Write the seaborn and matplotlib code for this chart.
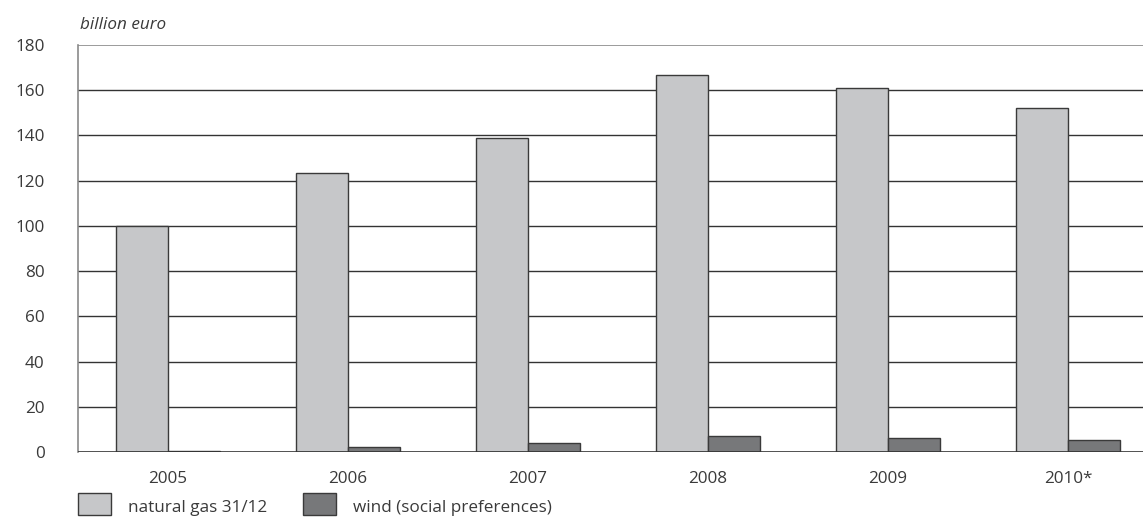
import pandas as pd
import matplotlib
matplotlib.use("Agg")
import matplotlib.pyplot as plt
from matplotlib.patches import Rectangle
import seaborn as sns

# chart values
years = ["2005", "2006", "2007", "2008", "2009", "2010*"]
natural_gas = [100, 123.4, 138.9, 166.7, 161, 152.1]
wind = [0.5, 2.2, 4.0, 7.1, 6.4, 5.1]
series_names = ["natural gas 31/12", "wind (social preferences)"]
y_ticks = [0, 20, 40, 60, 80, 100, 120, 140, 160, 180]

df = pd.DataFrame({
    "year": years * 2,
    "value": natural_gas + wind,
    "series": [series_names[0]] * len(years) + [series_names[1]] * len(years),
})

sns.set_style("white")
plt.rcParams["font.family"] = ["Open Sans", "DejaVu Sans"]
fs = 12.3
txt_col = "#3a3a3a"

fig = plt.figure(figsize=(11.43, 5.18), dpi=100)
ax = fig.add_axes([78 / 1143, 1 - 452 / 518, 1 - 78 / 1143, (452 - 45) / 518])

palette = {series_names[0]: "#c6c7c9", series_names[1]: "#77787a"}
sns.barplot(data=df, x="year", y="value", hue="series", palette=palette,
            width=0.58, edgecolor="#3a3a3a", linewidth=1.0, ax=ax,
            saturation=1, legend=False, zorder=3)

# horizontal grid lines
for t in y_ticks[1:-1]:
    ax.axhline(t, color="#333333", lw=1.0, zorder=1)
ax.axhline(0, color="#333333", lw=1.2, zorder=4)
ax.axhline(180, color="#8a8a8a", lw=1.2, zorder=1)

ax.set_ylim(0, 180)
ax.set_xlim(-0.5, 5.5 - 15 / 180)
ax.set_yticks(y_ticks)
ax.tick_params(axis="both", length=0, labelsize=fs, labelcolor=txt_col)
ax.tick_params(axis="y", pad=24)
ax.tick_params(axis="x", pad=14)
ax.set_xlabel("")
ax.set_ylabel("")
for s in ["top", "right", "bottom"]:
    ax.spines[s].set_visible(False)
ax.spines["left"].set_color("#8a8a8a")
ax.spines["left"].set_linewidth(1.2)

fig.text(80 / 1143, 1 - 25 / 518, "billion euro", style="italic", fontsize=fs,
         color=txt_col, va="center", ha="left")

# legend drawn at the bottom
for x0, name, col in [(78, series_names[0], palette[series_names[0]]),
                      (303, series_names[1], palette[series_names[1]])]:
    fig.patches.append(Rectangle((x0 / 1143, 1 - 515 / 518), 33 / 1143, 22 / 518,
                                 transform=fig.transFigure, facecolor=col,
                                 edgecolor="#3a3a3a", lw=1.0))
    fig.text((x0 + 50) / 1143, 1 - 508 / 518, name, fontsize=fs,
             color=txt_col, va="center", ha="left")

fig.savefig("out.png", dpi=100)
